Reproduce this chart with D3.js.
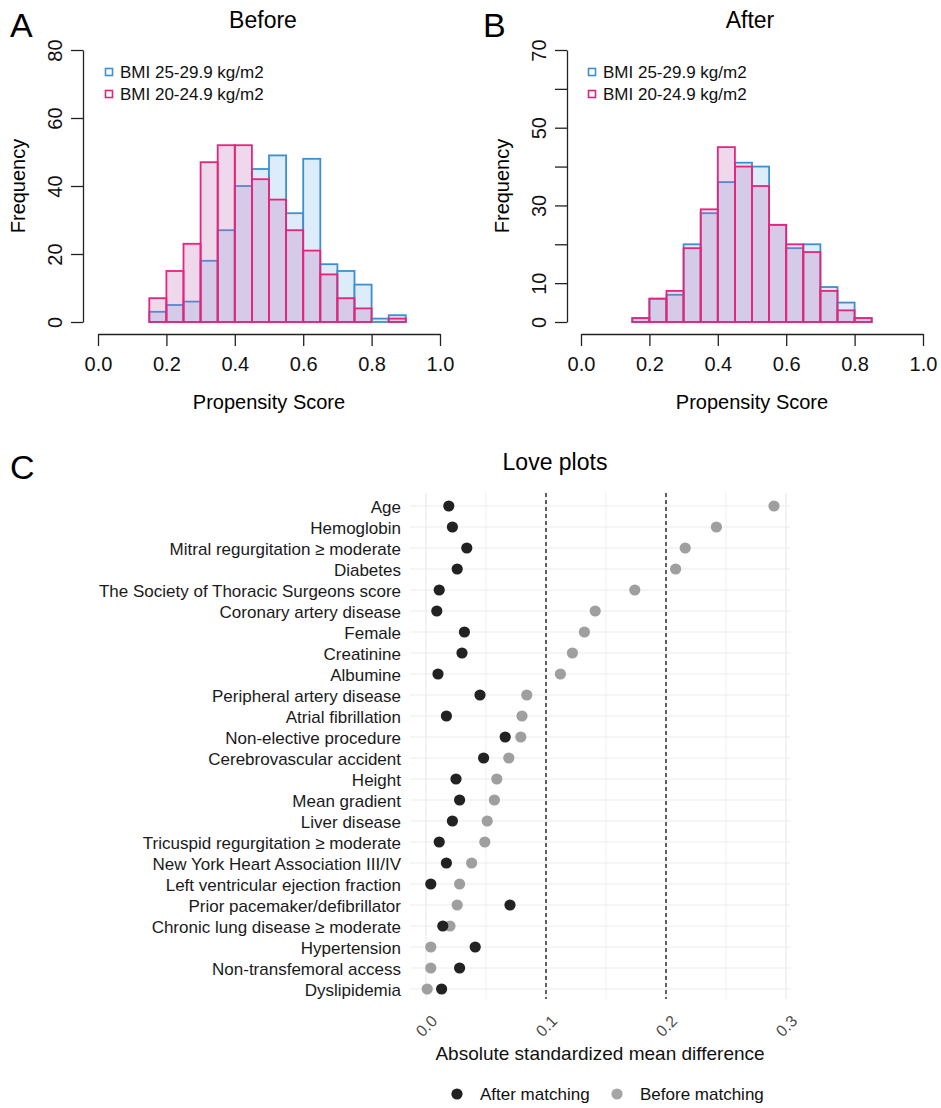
<!DOCTYPE html>
<html><head><meta charset="utf-8">
<script src="https://cdn.jsdelivr.net/npm/d3@7"></script>
<style>
body{margin:0;background:#fff}
svg{display:block}
text{font-family:"Liberation Sans",Arial,sans-serif}
</style>
</head><body>
<svg id="chart" width="941" height="1108"></svg>
<script>
// ---------------- DATA ----------------
const binWidth = 0.05;
const beforeBinStarts = [0.15,0.20,0.25,0.30,0.35,0.40,0.45,0.50,0.55,0.60,0.65,0.70,0.75,0.80,0.85];
const beforeOverweight = [3,5,6,18,27,40,45,49,32,48,17,15,11,1,2];
const beforeNormal     = [7,15,23,47,52,52,42,36,27,21,14,7,4,0,1];
const afterBinStarts = [0.15,0.20,0.25,0.30,0.35,0.40,0.45,0.50,0.55,0.60,0.65,0.70,0.75,0.80];
const afterOverweight = [1,6,7,20,28,36,41,40,25,19,20,9,5,1];
const afterNormal     = [1,6,8,19,29,45,40,35,25,20,18,8,3,1];
const scoreTicks = [0,0.2,0.4,0.6,0.8,1.0];
const beforeFreqTicks = [0,20,40,60,80];
const afterFreqTicks = [0,10,20,30,40,50,60,70];
const afterFreqLabels = [0,10,30,50,70];
const seriesNames = ["BMI 25-29.9 kg/m2","BMI 20-24.9 kg/m2"];

const covariates = ["Age","Hemoglobin","Mitral regurgitation \u2265 moderate","Diabetes",
 "The Society of Thoracic Surgeons score","Coronary artery disease","Female","Creatinine",
 "Albumine","Peripheral artery disease","Atrial fibrillation","Non-elective procedure",
 "Cerebrovascular accident","Height","Mean gradient","Liver disease",
 "Tricuspid regurgitation \u2265 moderate","New York Heart Association III/IV",
 "Left ventricular ejection fraction","Prior pacemaker/defibrillator",
 "Chronic lung disease \u2265 moderate","Hypertension","Non-transfemoral access","Dyslipidemia"];
const smdAfter  = [0.019,0.022,0.034,0.026,0.011,0.009,0.032,0.030,0.010,0.045,0.017,0.066,
                   0.048,0.025,0.028,0.022,0.011,0.017,0.004,0.070,0.014,0.041,0.028,0.013];
const smdBefore = [0.290,0.242,0.216,0.208,0.174,0.141,0.132,0.122,0.112,0.084,0.080,0.079,
                   0.069,0.059,0.057,0.051,0.049,0.038,0.028,0.026,0.020,0.004,0.004,0.001];
const smdTicks = [0,0.1,0.2,0.3];
const smdGrid = [0,0.05,0.1,0.15,0.2,0.25,0.3];
const thresholds = [0.1,0.2];
const loveLegend = ["After matching","Before matching"];

// ---------------- STYLE ----------------
const blueStroke = "#3d8fd1", blueFill = "#dcecf8";
const pinkStroke = "#e6247b", pinkFill = "rgba(193,103,181,0.26)";
const svg = d3.select("#chart");

function histogram(o){
  const g = svg.append("g");
  const x = d3.scaleLinear().domain([0,1]).range([o.x0, o.x1]);
  const y = d3.scaleLinear().domain([0,o.yMax]).range([322,50]);
  // panel letter & title
  g.append("text").attr("x",o.letterX).attr("y",37).attr("font-size",34).text(o.letter);
  g.append("text").attr("x",o.titleX).attr("y",28).attr("font-size",23).attr("text-anchor","middle").text(o.title);
  // y axis
  const ya = g.append("g").attr("transform",`translate(${o.yAxisX},0)`)
    .call(d3.axisLeft(y).tickValues(o.yTicks).tickSize(12).tickSizeOuter(0)
      .tickFormat(d => o.yLabels.includes(d) ? d : ""));
  ya.selectAll("path,line").attr("stroke","#222").attr("stroke-width",1.3);
  ya.selectAll("text").attr("x",0).attr("dy",null).attr("text-anchor","middle")
    .attr("dominant-baseline","central").attr("font-size",20).attr("fill","#111")
    .attr("transform","translate(-28,0) rotate(-90)");
  // x axis
  const xa = g.append("g").attr("transform","translate(0,334)")
    .call(d3.axisBottom(x).tickValues(scoreTicks).tickSize(12).tickSizeOuter(0).tickFormat(d3.format(".1f")));
  xa.selectAll("path,line").attr("stroke","#222").attr("stroke-width",1.3);
  xa.selectAll("text").attr("y",0).attr("dy",null).attr("font-size",20).attr("fill","#111")
    .attr("transform","translate(0,37)");
  // axis titles
  g.append("text").attr("transform",`translate(${o.yAxisX-65},186) rotate(-90)`)
    .attr("text-anchor","middle").attr("dominant-baseline","central").attr("font-size",20).text("Frequency");
  g.append("text").attr("x",(o.x0+o.x1)/2).attr("y",409).attr("text-anchor","middle")
    .attr("font-size",20).text("Propensity Score");
  // bars
  const drawBars = (vals, fill, stroke) => g.append("g").selectAll("rect")
    .data(o.starts.map((s,i)=>({s, v: vals[i]}))).join("rect")
    .attr("x", d => x(d.s)).attr("width", d => x(d.s+binWidth)-x(d.s))
    .attr("y", d => y(d.v)).attr("height", d => y(0)-y(d.v))
    .attr("fill", fill).attr("stroke", stroke).attr("stroke-width",1.8);
  drawBars(o.blue, blueFill, blueStroke);
  drawBars(o.pink, pinkFill, pinkStroke);
  // legend
  const lg = g.append("g");
  [blueStroke, pinkStroke].forEach((c,i)=>{
    lg.append("rect").attr("x",o.legX-3.5).attr("y",72+22*i-3.5).attr("width",7).attr("height",7)
      .attr("fill","#fff").attr("stroke",c).attr("stroke-width",1.6);
    lg.append("text").attr("x",o.legX+11).attr("y",72+22*i).attr("dominant-baseline","central")
      .attr("font-size",17).attr("fill","#111").text(seriesNames[i]);
  });
}

histogram({letter:"A", letterX:10, title:"Before", titleX:263, x0:98, x1:440, yAxisX:83,
  yMax:80, yTicks:beforeFreqTicks, yLabels:beforeFreqTicks, starts:beforeBinStarts,
  blue:beforeOverweight, pink:beforeNormal, legX:109});
histogram({letter:"B", letterX:483, title:"After", titleX:750, x0:581, x1:923, yAxisX:567,
  yMax:70, yTicks:afterFreqTicks, yLabels:afterFreqLabels, starts:afterBinStarts,
  blue:afterOverweight, pink:afterNormal, legX:592});

// ---------------- LOVE PLOT ----------------
const lp = svg.append("g");
const px0 = 410, px1 = 790, py0 = 493, py1 = 999;
const xs = d3.scaleLinear().domain([0,0.3]).range([426,786]);
const ys = d3.scalePoint().domain(covariates).range([506,989]);

lp.append("text").attr("x",10).attr("y",479).attr("font-size",34)
  .style("font-family","'Liberation Sans Narrow','Liberation Sans',Arial,sans-serif").text("C");
lp.append("text").attr("x",555).attr("y",470).attr("text-anchor","middle").attr("font-size",23).text("Love plots");

// grid
lp.append("g").selectAll("line").data(covariates).join("line")
  .attr("x1",px0).attr("x2",px1).attr("y1",d=>ys(d)).attr("y2",d=>ys(d))
  .attr("stroke","#ebebeb").attr("stroke-width",1.1);
lp.append("g").selectAll("line").data(smdGrid).join("line")
  .attr("x1",d=>xs(d)).attr("x2",d=>xs(d)).attr("y1",py0).attr("y2",py1)
  .attr("stroke","#ebebeb").attr("stroke-width",d => smdTicks.some(t=>Math.abs(t-d)<1e-9)?1.2:0.8);
// thresholds
lp.append("g").selectAll("line").data(thresholds).join("line")
  .attr("x1",d=>xs(d)).attr("x2",d=>xs(d)).attr("y1",py0).attr("y2",py1)
  .attr("stroke","#111").attr("stroke-width",1.3).attr("stroke-dasharray","4,3");

// y labels
const yax = lp.append("g").attr("transform",`translate(${px0},0)`)
  .call(d3.axisLeft(ys).tickSize(0).tickPadding(9));
yax.select(".domain").remove();
yax.selectAll("text").attr("font-size",17).attr("fill","#1a1a1a").attr("dy","0.36em");

// x tick labels (rotated)
const xax = lp.append("g").attr("transform",`translate(0,${py1})`)
  .call(d3.axisBottom(xs).tickValues(smdTicks).tickSize(0).tickFormat(d3.format(".1f")));
xax.select(".domain").remove();
xax.selectAll("text").attr("y",0).attr("dy",null).attr("text-anchor","middle")
  .attr("dominant-baseline","central").attr("font-size",16).attr("fill","#4d4d4d")
  .attr("transform","translate(0,27) rotate(-45)");

lp.append("text").attr("x",(px0+px1)/2).attr("y",1060).attr("text-anchor","middle")
  .attr("font-size",19).attr("fill","#111").text("Absolute standardized mean difference");

// points
lp.append("g").selectAll("circle").data(covariates).join("circle")
  .attr("cx",(d,i)=>xs(smdBefore[i])).attr("cy",d=>ys(d)).attr("r",5.6).attr("fill","#9f9f9f");
lp.append("g").selectAll("circle").data(covariates).join("circle")
  .attr("cx",(d,i)=>xs(smdAfter[i])).attr("cy",d=>ys(d)).attr("r",5.6).attr("fill","#222");

// legend
const legX = [457, 617], legC = ["#222","#a5a5a5"];
loveLegend.forEach((t,i)=>{
  lp.append("circle").attr("cx",legX[i]).attr("cy",1094).attr("r",5.6).attr("fill",legC[i]);
  lp.append("text").attr("x",legX[i]+23).attr("y",1094).attr("dominant-baseline","central")
    .attr("font-size",17).attr("fill","#111").text(t);
});
</script>
</body></html>
